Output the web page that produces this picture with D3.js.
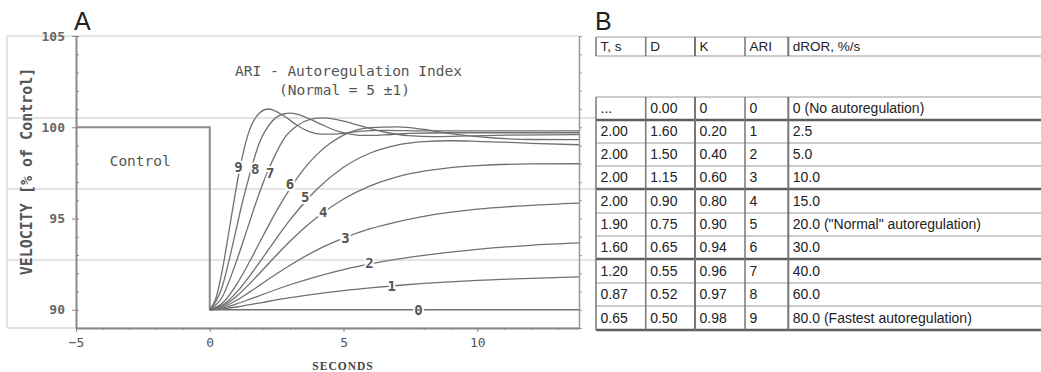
<!DOCTYPE html>
<html>
<head>
<meta charset="utf-8">
<script src="https://cdn.jsdelivr.net/npm/d3@7"></script>
<style>
  body { margin: 0; background: #fff; }
  svg { display: block; }
</style>
</head>
<body>
<div id="chart"></div>
<script>
// ---- panel A data: velocity (% of control) after the pressure step, per ARI grade ----
const ariGrades = [0, 1, 2, 3, 4, 5, 6, 7, 8, 9];

const curve0 = [[0, 90], [13.8, 90]];
const curve1 = [[0, 90], [0.5, 90.05], [1, 90.15], [1.5, 90.28], [2, 90.41], [3, 90.66], [4, 90.87], [5, 91.05], [6, 91.2], [7, 91.33], [8, 91.44], [10, 91.61], [12, 91.72], [13.8, 91.8]];
const curve2 = [[0, 90], [0.5, 90.1], [1, 90.32], [1.5, 90.58], [2, 90.85], [3, 91.37], [4, 91.82], [5, 92.2], [6, 92.51], [7, 92.77], [8, 92.98], [10, 93.31], [12, 93.53], [13.8, 93.66]];
const curve3 = [[0, 90], [0.5, 90.15], [1, 90.52], [1.5, 90.98], [2, 91.48], [2.5, 91.97], [3, 92.44], [4, 93.27], [5, 93.92], [6, 94.44], [7, 94.82], [8, 95.12], [10, 95.51], [12, 95.72], [13.8, 95.84]];
const curve4 = [[0, 90], [0.5, 90.22], [1, 90.74], [1.5, 91.44], [2, 92.22], [2.5, 93.0], [3, 93.75], [3.5, 94.44], [4, 95.06], [5, 96.07], [6, 96.79], [7, 97.28], [8, 97.59], [9, 97.79], [10, 97.9], [12, 97.99], [13.8, 98.0]];
const curve5 = [[0, 90], [0.5, 90.27], [1, 90.95], [1.5, 91.87], [2, 92.89], [2.5, 93.93], [3, 94.92], [3.5, 95.81], [4, 96.6], [5, 97.81], [6, 98.59], [7, 99.02], [8, 99.21], [9, 99.26], [10, 99.23], [12, 99.12], [13.8, 99.04]];
const curve6 = [[0, 90], [0.5, 90.4], [1, 91.38], [1.5, 92.67], [2, 94.07], [2.5, 95.43], [3, 96.64], [3.5, 97.68], [4, 98.5], [4.5, 99.12], [5, 99.57], [6, 99.98], [7, 100.02], [8, 99.88], [9, 99.65], [10, 99.49], [12, 99.33], [13.8, 99.32]];
const curve7 = [[0, 90], [0.47, 90.71], [0.93, 92.38], [1.4, 94.42], [1.86, 96.43], [2.33, 98.13], [2.79, 99.41], [3.26, 100.08], [3.72, 100.42], [4.19, 100.51], [4.65, 100.45], [5.12, 100.29], [5.58, 100.1], [6.51, 99.74], [7.44, 99.54], [8.37, 99.49], [9.3, 99.51], [11.2, 99.57], [13.8, 99.6]];
const curve8 = [[0, 90], [0.47, 91.29], [0.7, 92.58], [0.93, 94.03], [1.16, 95.52], [1.4, 96.91], [1.86, 99.17], [2.33, 100.33], [2.79, 100.74], [2.98, 100.77], [3.26, 100.72], [3.72, 100.46], [4.19, 100.14], [4.65, 99.85], [5.12, 99.66], [5.58, 99.56], [6.05, 99.55], [6.51, 99.58], [7.44, 99.66], [9, 99.7], [13.8, 99.7]];
const curve9 = [[0, 90], [0.23, 90.63], [0.47, 92.18], [0.7, 94.15], [0.93, 96.18], [1.16, 98.0], [1.4, 99.46], [1.86, 100.78], [2.19, 101.0], [2.79, 100.6], [3.26, 100.11], [3.72, 99.76], [4.19, 99.62], [4.65, 99.62], [5.58, 99.77], [6.51, 99.83], [8, 99.8], [13.8, 99.8]];
const curves = [curve0, curve1, curve2, curve3, curve4, curve5, curve6, curve7, curve8, curve9];

// where each grade number sits on its curve [s, %]
const labelPos = [[7.8, 90], [6.8, 91.28], [5.97, 92.53], [5.07, 93.95], [4.24, 95.35], [3.57, 96.15], [3.0, 96.9], [2.26, 97.5], [1.7, 97.7], [1.07, 97.8]];

const controlLine = [[-5, 100], [0, 100], [0, 90]];

const xTickValues = [-5, 0, 5, 10];
const yTickValues = [90, 95, 100, 105];

// ---- panel B data ----
const tableHeader = ["T, s", "D", "K", "ARI", "dROR, %/s"];
const colT = ["...", "2.00", "2.00", "2.00", "2.00", "1.90", "1.60", "1.20", "0.87", "0.65"];
const colD = ["0.00", "1.60", "1.50", "1.15", "0.90", "0.75", "0.65", "0.55", "0.52", "0.50"];
const colK = ["0", "0.20", "0.40", "0.60", "0.80", "0.90", "0.94", "0.96", "0.97", "0.98"];
const colARI = ["0", "1", "2", "3", "4", "5", "6", "7", "8", "9"];
const colDROR = ["0 (No autoregulation)", "2.5", "5.0", "10.0", "15.0", "20.0 (\"Normal\" autoregulation)", "30.0", "40.0", "60.0", "80.0 (Fastest autoregulation)"];

const width = 1041;
const height = 372;
const mono = "'DejaVu Sans Mono', 'Liberation Mono', monospace";
const sans = "'Liberation Sans', Arial, sans-serif";

const svg = d3.select("#chart")
  .append("svg")
  .attr("width", width)
  .attr("height", height);

svg.append("rect").attr("width", width).attr("height", height).attr("fill", "#fff");

const x = d3.scaleLinear().domain([-5, 13.8]).range([76, 579]);
const y = d3.scaleLinear().domain([89, 105]).range([328, 36]);

// light frame / rule lines around panel A
const ruleRows = [36, 118, 189, 260, 328];
svg.append("g")
  .selectAll("line")
  .data(ruleRows)
  .enter().append("line")
  .attr("x1", 7)
  .attr("x2", d => (d === 36 || d === 328) ? 579 : 596)
  .attr("y1", d => d)
  .attr("y2", d => d)
  .attr("stroke", "#c8c8c8");
svg.append("line")
  .attr("x1", 7).attr("x2", 7).attr("y1", 36).attr("y2", 328)
  .attr("stroke", "#c8c8c8");

// right frame with small ticks
svg.append("g")
  .attr("transform", `translate(${x(13.8)},0)`)
  .call(d3.axisRight(y).ticks(16).tickSize(3).tickSizeOuter(0).tickFormat(""))
  .call(g => g.select(".domain").attr("stroke", "#999").attr("stroke-width", 1.5))
  .call(g => g.selectAll(".tick line").attr("stroke", "#999"));

// y axis: minor ticks inward, major ticks outward with labels
svg.append("g")
  .attr("transform", `translate(${x(-5)},0)`)
  .call(d3.axisLeft(y).ticks(16).tickSize(-3).tickFormat(""))
  .call(g => g.select(".domain").remove())
  .call(g => g.selectAll(".tick line").attr("stroke", "#888"));

svg.append("g")
  .attr("transform", `translate(${x(-5)},0)`)
  .call(d3.axisLeft(y).tickValues(yTickValues).tickSize(4).tickPadding(7).tickSizeOuter(0))
  .call(g => g.select(".domain").attr("stroke", "#888").attr("stroke-width", 2))
  .call(g => g.selectAll(".tick line").attr("stroke", "#888"))
  .call(g => g.selectAll("text")
    .attr("font-family", mono)
    .attr("font-size", 13)
    .attr("font-weight", "bold")
    .attr("fill", "#666"));

// x axis
svg.append("g")
  .attr("transform", `translate(0,${y(89)})`)
  .call(d3.axisBottom(x).ticks(20).tickSize(2).tickFormat(""))
  .call(g => g.select(".domain").remove())
  .call(g => g.selectAll(".tick line").attr("stroke", "#888"));

svg.append("g")
  .attr("transform", `translate(0,${y(89)})`)
  .call(d3.axisBottom(x).tickValues(xTickValues).tickSize(4).tickPadding(6).tickSizeOuter(0))
  .call(g => g.select(".domain").attr("stroke", "#888").attr("stroke-width", 2))
  .call(g => g.selectAll(".tick line").attr("stroke", "#888"))
  .call(g => g.selectAll("text")
    .attr("font-family", mono)
    .attr("font-size", 13)
    .attr("fill", "#555"));

// axis titles
svg.append("text")
  .attr("transform", "translate(32,171.5) rotate(-90)")
  .attr("text-anchor", "middle")
  .attr("font-family", mono)
  .attr("font-size", 15)
  .attr("font-weight", "bold")
  .attr("fill", "#555")
  .text("VELOCITY [% of Control]");

svg.append("text")
  .attr("x", 343)
  .attr("y", 370)
  .attr("text-anchor", "middle")
  .attr("font-family", "'Liberation Serif', 'DejaVu Serif', serif")
  .attr("font-size", 11.5)
  .attr("font-weight", "bold")
  .attr("letter-spacing", 1)
  .attr("fill", "#444")
  .text("SECONDS");

// control segment
svg.append("path")
  .datum(controlLine)
  .attr("d", d3.line().x(d => x(d[0])).y(d => y(d[1])))
  .attr("fill", "none")
  .attr("stroke", "#8a8a8a")
  .attr("stroke-width", 2);

// response curves
const line = d3.line()
  .x(d => x(d[0]))
  .y(d => y(d[1]))
  .curve(d3.curveMonotoneX);

svg.append("g")
  .selectAll("path")
  .data(curves)
  .enter().append("path")
  .attr("d", line)
  .attr("fill", "none")
  .attr("stroke", "#707070")
  .attr("stroke-width", 1.3);

// grade numbers on the curves
svg.append("g")
  .selectAll("text")
  .data(ariGrades)
  .enter().append("text")
  .attr("x", (d, i) => x(labelPos[i][0]))
  .attr("y", (d, i) => y(labelPos[i][1]))
  .attr("dy", "0.35em")
  .attr("text-anchor", "middle")
  .attr("font-family", mono)
  .attr("font-size", 14)
  .attr("font-weight", "bold")
  .attr("fill", "#555")
  .attr("stroke", "#fff")
  .attr("stroke-width", 4)
  .attr("paint-order", "stroke")
  .text(d => d);

// annotations
svg.append("text")
  .attr("x", x(-2.6)).attr("y", y(97.9))
  .attr("text-anchor", "middle")
  .attr("font-family", mono).attr("font-size", 14.5).attr("fill", "#555")
  .text("Control");

svg.append("text")
  .attr("x", 235).attr("y", 76)
  .attr("font-family", mono).attr("font-size", 14.5).attr("fill", "#555")
  .text("ARI - Autoregulation Index");

svg.append("text")
  .attr("x", 279).attr("y", 95)
  .attr("font-family", mono).attr("font-size", 14.5).attr("fill", "#555")
  .text("(Normal = 5 \u00b11)");

// panel letters
svg.append("text").attr("x", 74).attr("y", 30)
  .attr("font-family", sans).attr("font-size", 25).attr("fill", "#222").text("A");
svg.append("text").attr("x", 595).attr("y", 30)
  .attr("font-family", sans).attr("font-size", 25).attr("fill", "#222").text("B");

// ---- panel B table ----
const colEdges = [596, 645.7, 695, 745, 788.3];
const tableRight = 1041;
const headerTop = 37, headerBottom = 56, blankBottom = 97;
const rowEdges = [97, 120, 143, 166, 189, 213, 236, 259, 283, 306, 330];
const thickRows = [120, 189, 259, 330];

const table = svg.append("g");

// horizontal rules
table.selectAll("line.h")
  .data([headerTop, headerBottom].concat(rowEdges))
  .enter().append("line")
  .attr("class", "h")
  .attr("x1", colEdges[0]).attr("x2", tableRight)
  .attr("y1", d => d).attr("y2", d => d)
  .attr("stroke", d => thickRows.includes(d) ? "#5e5e5e" : "#999")
  .attr("stroke-width", d => thickRows.includes(d) ? 2.5 : 1.2);

// vertical rules (header row and body, not the blank spacer row)
const vSpans = [[headerTop, headerBottom], [blankBottom, 330]];
colEdges.forEach((cx, i) => {
  vSpans.forEach(s => {
    table.append("line")
      .attr("x1", cx).attr("x2", cx)
      .attr("y1", s[0]).attr("y2", s[1])
      .attr("stroke", "#777")
      .attr("stroke-width", (i === 2 || i === 4) ? 2 : 1.5);
  });
});

// header text
table.selectAll("text.head")
  .data(tableHeader)
  .enter().append("text")
  .attr("class", "head")
  .attr("x", (d, i) => colEdges[i] + 4.5)
  .attr("y", (headerTop + headerBottom) / 2)
  .attr("dy", "0.35em")
  .attr("font-family", sans).attr("font-size", 13.5).attr("fill", "#222")
  .text(d => d);

// body text
const columns = [colT, colD, colK, colARI, colDROR];
columns.forEach((col, ci) => {
  table.selectAll(null)
    .data(col)
    .enter().append("text")
    .attr("x", colEdges[ci] + 4.5)
    .attr("y", (d, ri) => (rowEdges[ri] + rowEdges[ri + 1]) / 2)
    .attr("dy", "0.35em")
    .attr("font-family", sans).attr("font-size", 14).attr("fill", "#222")
    .text(d => d);
});
</script>
</body>
</html>
